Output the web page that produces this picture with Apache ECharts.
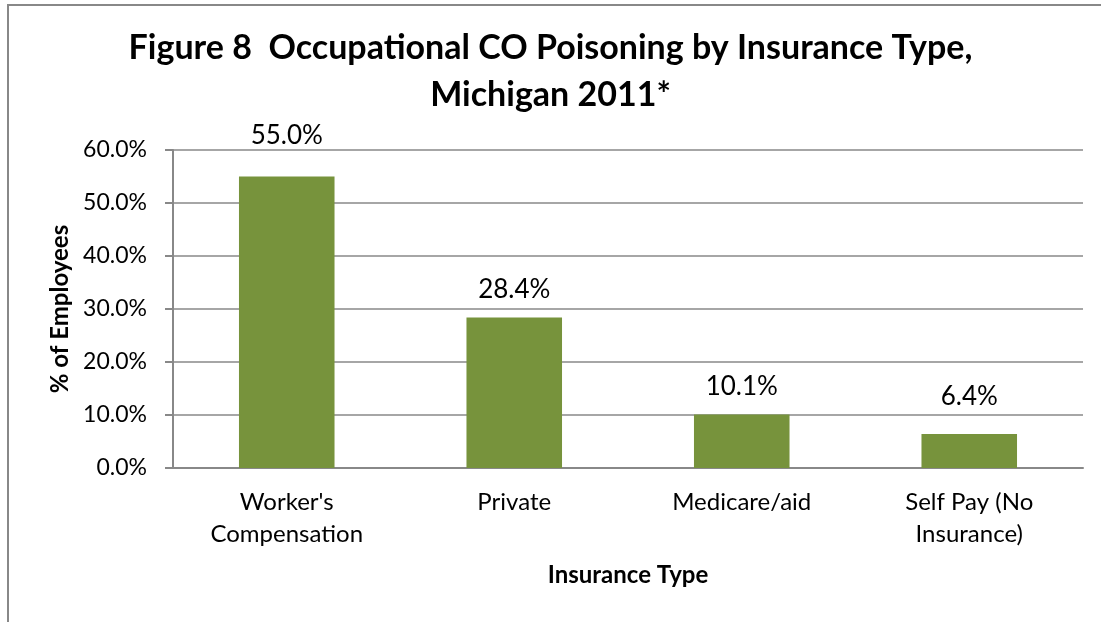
<!DOCTYPE html>
<html>
<head>
<meta charset="utf-8">
<script src="https://cdn.jsdelivr.net/npm/echarts@6/dist/echarts.min.js"></script>
<style>
  html, body { margin: 0; padding: 0; background: #fff; }
  #chart { width: 1101px; height: 622px; }
</style>
</head>
<body>
<div id="chart"></div>
<script>
// 数据
const categories = ["Worker's\nCompensation", "Private", "Medicare/aid", "Self Pay (No\nInsurance)"];
const percents = [55.0, 28.4, 10.1, 6.4];
const yTicks = [0, 10, 20, 30, 40, 50, 60];
// 标签离柱顶的距离（原图里不一样）
const labelGaps = [28, 15, 15, 24];

const chart = echarts.init(document.getElementById("chart"));
const font = "Lato, 'Open Sans', sans-serif";
const option = {
  backgroundColor: "#fff",
  // 外框
  graphic: [
    {
      type: "rect",
      shape: { x: 8, y: 5, width: 1200, height: 700 },
      style: { fill: "none", stroke: "#888", lineWidth: 2 },
      silent: true,
    },
  ],
  title: {
    text: "Figure 8  Occupational CO Poisoning by Insurance Type,\nMichigan 2011*",
    left: "center",
    top: 20,
    textStyle: {
      fontFamily: font,
      fontSize: 34,
      fontWeight: "bold",
      color: "#000",
      lineHeight: 47,
    },
  },
  grid: {
    left: 173,
    right: 18,
    top: 150,
    bottom: 154,
  },
  xAxis: {
    type: "category",
    data: categories,
    name: "Insurance Type",
    nameLocation: "middle",
    nameGap: 95,
    nameTextStyle: { fontFamily: font, fontSize: 24, fontWeight: "bold", color: "#000" },
    axisLine: { lineStyle: { color: "#888", width: 2 } },
    axisTick: { show: false },
    axisLabel: {
      fontFamily: font,
      fontSize: 24,
      color: "#000",
      lineHeight: 32,
      margin: 18,
    },
  },
  yAxis: {
    type: "value",
    min: yTicks[0],
    max: yTicks[yTicks.length - 1],
    interval: 10,
    name: "% of Employees",
    nameLocation: "middle",
    nameGap: 100,
    nameTextStyle: { fontFamily: font, fontSize: 24, fontWeight: "bold", color: "#000" },
    axisLine: { show: true, lineStyle: { color: "#888", width: 2 } },
    axisTick: { show: true, length: 8, lineStyle: { color: "#888", width: 2 } },
    splitLine: { lineStyle: { color: "#888", width: 1.5 } },
    axisLabel: {
      fontFamily: font,
      fontSize: 23,
      color: "#000",
      margin: 26,
      formatter: (v) => v.toFixed(1) + "%",
    },
  },
  series: [
    {
      type: "bar",
      data: percents.map((v, i) => ({ value: v, label: { distance: labelGaps[i] } })),
      barWidth: "42%",
      itemStyle: { color: "#77933C" },
      label: {
        show: true,
        position: "top",
        fontFamily: font,
        fontSize: 26,
        color: "#000",
        formatter: (p) => p.value.toFixed(1) + "%",
      },
    },
  ],
};
chart.setOption(option);
window.addEventListener("resize", function () {
  chart.resize();
});
</script>
</body>
</html>
